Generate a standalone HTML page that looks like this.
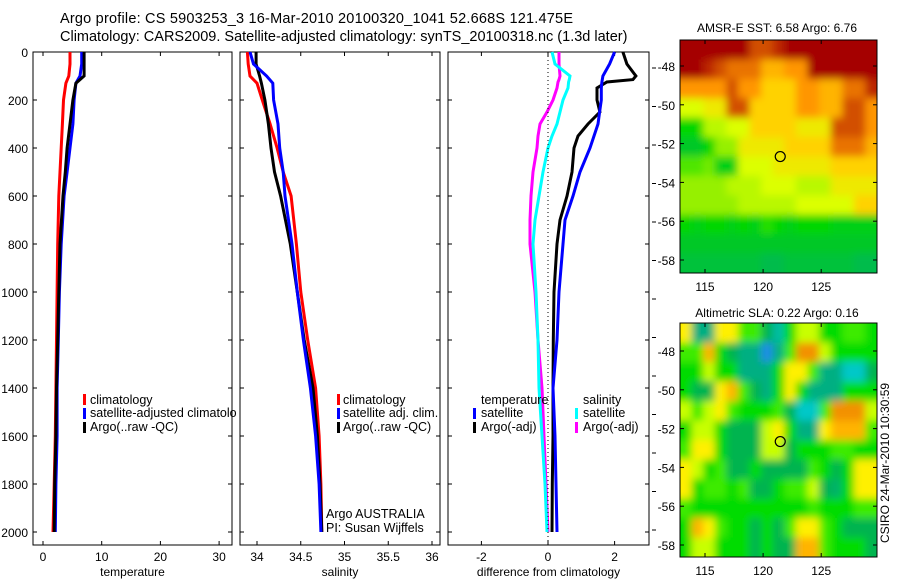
<!DOCTYPE html>
<html><head><meta charset="utf-8">
<style>
html,body{margin:0;padding:0;background:#fff;}
svg{display:block;font-family:"Liberation Sans",sans-serif;}
</style></head>
<body>
<svg id="fig" width="900" height="580" viewBox="0 0 900 580" xmlns="http://www.w3.org/2000/svg">
<defs>
<filter id="smooth" x="-5%" y="-5%" width="110%" height="110%"><feGaussianBlur stdDeviation="4"/></filter>
<clipPath id="clipSst"><rect x="680" y="40" width="197" height="233"/></clipPath>
<clipPath id="clipSla"><rect x="680" y="323" width="197" height="234"/></clipPath>
</defs>
<rect x="0" y="0" width="900" height="580" fill="#fff"/>
<text x="60" y="23" font-size="14.5" textLength="513">Argo profile: CS 5903253_3 16-Mar-2010 20100320_1041 52.668S 121.475E</text>
<text x="60" y="41" font-size="14.5">Climatology: CARS2009. Satellite-adjusted climatology: synTS_20100318.nc (1.3d later)</text>
<g id="profiles"></g>
<g id="maps"></g>
<text x="90" y="404" font-size="12.5">climatology</text>
<text x="90" y="417" font-size="12.5">satellite-adjusted climatolo</text>
<text x="90" y="431" font-size="12.5">Argo(..raw -QC)</text>
<rect x="83" y="394" width="3" height="11" fill="#f00"/><rect x="83" y="408" width="3" height="11" fill="#00f"/><rect x="83" y="422" width="3" height="11" fill="#000"/>
<text x="343" y="404" font-size="12.5">climatology</text>
<text x="343" y="417" font-size="12.5">satellite adj. clim.</text>
<text x="343" y="431" font-size="12.5">Argo(..raw -QC)</text>
<rect x="337" y="394" width="3" height="11" fill="#f00"/><rect x="337" y="408" width="3" height="11" fill="#00f"/><rect x="337" y="422" width="3" height="11" fill="#000"/>
<text x="326" y="518" font-size="12.5">Argo AUSTRALIA</text>
<text x="326" y="532" font-size="12.5">PI: Susan Wijffels</text>
<text x="481" y="404" font-size="12.5">temperature</text>
<text x="481" y="417" font-size="12.5">satellite</text>
<text x="481" y="431" font-size="12.5">Argo(-adj)</text>
<rect x="473" y="408" width="3" height="11" fill="#00f"/><rect x="473" y="422" width="3" height="11" fill="#000"/>
<text x="583" y="404" font-size="12.5">salinity</text>
<text x="583" y="417" font-size="12.5">satellite</text>
<text x="583" y="431" font-size="12.5">Argo(-adj)</text>
<rect x="575" y="408" width="3" height="11" fill="#0ff"/><rect x="575" y="422" width="3" height="11" fill="#f0f"/>
<text x="777" y="32" font-size="12" text-anchor="middle">AMSR-E SST: 6.58 Argo: 6.76</text>
<text x="777" y="317" font-size="12" text-anchor="middle">Altimetric SLA: 0.22 Argo: 0.16</text>
<text x="0" y="0" font-size="12" text-anchor="middle" transform="translate(889,463) rotate(-90)">CSIRO 24-Mar-2010 10:30:59</text>
</svg>
<script>
const depths=[0,50,100,130,200,300,400,500,600,800,1000,1200,1400,1600,1800,2000];
const tempClim=[4.6,4.6,4.4,3.9,3.5,3.3,3.1,2.9,2.7,2.5,2.4,2.3,2.2,2.1,1.9,1.7];
const tempSat=[6.6,6.6,6.3,5.6,5.3,5.1,4.6,4.1,3.6,3.1,2.8,2.6,2.4,2.4,2.2,2.1];
const tempArgo=[7.0,7.0,7.0,5.6,5.1,4.6,4.1,3.8,3.4,2.9,2.7,2.5,2.3,2.2,2.0,1.9];
const salClim=[33.89,33.9,33.92,34.0,34.06,34.15,34.23,34.3,34.39,34.45,34.5,34.58,34.67,34.71,34.73,34.74];
const salSat=[33.92,33.96,34.11,34.18,34.19,34.24,34.26,34.3,34.32,34.4,34.46,34.53,34.61,34.67,34.71,34.73];
const salArgo=[33.99,33.99,34.03,34.05,34.09,34.13,34.16,34.2,34.27,34.38,34.46,34.54,34.64,34.69,34.72,34.74];
const diffDepths=[0,50,100,115,125,150,200,250,300,350,400,500,600,700,800,1000,1200,1400,1600,1800,2000];
const dTempSat=[2.0,1.85,1.65,1.63,1.62,1.6,1.6,1.55,1.5,1.38,1.26,0.96,0.75,0.51,0.45,0.33,0.27,0.15,0.21,0.24,0.27];
const dTempArgo=[2.25,2.37,2.64,2.55,1.77,1.47,1.47,1.56,1.2,0.9,0.78,0.72,0.57,0.36,0.27,0.18,0.16,0.15,0.15,0.13,0.12];
const dSalSat=[0.12,0.21,0.66,0.64,0.62,0.6,0.45,0.36,0.27,0.12,0,-0.15,-0.27,-0.39,-0.45,-0.36,-0.3,-0.27,-0.18,-0.09,-0.03];
const dSalArgo=[0.33,0.33,0.36,0.33,0.3,0.27,0.15,-0.03,-0.24,-0.3,-0.33,-0.45,-0.51,-0.54,-0.54,-0.39,-0.3,-0.18,-0.12,-0.06,0];
const tempTicks=[0,10,20,30];
const salTicks=[34,34.5,35,35.5,36];
const diffTicks=[-2,0,2];
const depthTicks=[0,200,400,600,800,1000,1200,1400,1600,1800,2000];
const sstGrid=[
[10,10,10,10,10,10,9,9,9.5,10,10,10,10,10,10,10,10],
[10,10,9.5,9,8.5,8.5,8.5,7.5,7.5,8,8,10,10,10,10,10,10],
[8,8,8,8,9,8,8,7,7,7,8,8,7.5,7.5,8.5,8.5,9.5],
[6,6,6.5,6.5,9,9,7,7,7,7,8,8,7.5,7.5,9,9,8],
[3,3,5.5,5.5,6,6,7,7,7,7,6.5,6.5,6.5,9,9,9,8],
[2,2,3,5,5,6.5,6.5,6.5,6.5,7,7,7,7,8.5,8.5,8.5,7.5],
[4,4,4.5,2.5,2.5,6,6,6,6.5,6.5,6.5,6.5,6.5,7,7,7,7],
[5,5,5,5,5.5,5.5,5.5,6,6,6,5.5,5.5,5.5,6.5,6.5,6.5,6.5],
[5,5,5,5,5,5.5,5.5,5.5,5.5,5.5,6,6,6,6,6,7,7],
[3,2.5,3,3,2.5,3,2.5,3.5,3,2.5,3,3,3,2.5,2.5,2.5,2.5],
[2,2,2,2,2,2,2,2,2,2,2,2,2,2,2,2,2],
[1.5,1.5,1.5,1.5,1.5,1.5,1.5,1,1,1.5,1.5,1.5,1.5,1.5,1.5,1,1]];
const slaGrid=[
[8,3,3,8,8,6,6,4,2.5,5,7,7,5,5,6,6,5],
[6,6,9,5,4,3,3,1,3,6,9.5,9.5,7,5,5,5,5],
[5,5,7,5,5,3,3,3,5,8,8,6,3,3,2,2,4],
[5,4,4,8,9,6,4,3,5,8,5,3,3,3,5,5,5],
[7,6,7,8,6,5,5,5,6,4,2,2,6,9.5,9.5,9.5,7],
[5,7,7,5,4,4,4,7,8,5,3,3,8,9,9,9,6],
[6,8,8,5,4,4,4,7,7,4,5,5,5,6,6,5,5],
[8,7,5,6,4,4,5,4,4,4,4,6,5,4,5,8,8],
[8,5,6,6,5,6,4,4,5,6,6,7,4,3.5,5,8,8],
[6,5,5,5,5,5,5,5,5,5,5,6,5,5,5,6,6],
[5,9,8,6,5,5,4,5,4,6,8,8,6,5,4,4,4],
[5,7,7,5,5,5,4,5,4,4,9,9,6,5,5,5,4]];
const sstLonTicks=[115,120,125];
const latTicks=[-48,-50,-52,-54,-56,-58];
const floatLon=121.475, floatLat=-52.668;

const NS='http://www.w3.org/2000/svg';
function mk(tag,attrs,parent){const e=document.createElementNS(NS,tag);for(const k in attrs)e.setAttribute(k,attrs[k]);parent.appendChild(e);return e;}
const prof=document.getElementById('profiles');
const Y0=52,Y1=532,BOT=545;
function yD(d){return Y0+(d/2000)*(Y1-Y0);}
function drawPanel(name,left,right,fx,ticks,xlabel,showY,series){
  const g=mk('g',{},prof);
  
  
  mk('rect',{x:left,y:Y0,width:right-left,height:BOT-Y0,fill:'none',stroke:'#000','stroke-width':1},g);
  for(const t of ticks){const x=fx(t);
    mk('line',{x1:x,y1:BOT,x2:x,y2:BOT-4,stroke:'#000'},g);
    mk('line',{x1:x,y1:Y0,x2:x,y2:Y0+4,stroke:'#000'},g);
    const tx=mk('text',{x:x,y:BOT+16,'font-size':12,'text-anchor':'middle'},g);tx.textContent=String(t);
    
    
  }
  for(const d of depthTicks){const y=yD(d);
    mk('line',{x1:left,y1:y,x2:left+4,y2:y,stroke:'#000'},g);
    mk('line',{x1:right,y1:y,x2:right-4,y2:y,stroke:'#000'},g);
    if(showY){const tx=mk('text',{x:left-5,y:y+5,'font-size':12,'text-anchor':'end'},g);tx.textContent=String(d);
      
      }
  }
  const xl=mk('text',{x:(left+right)/2,y:BOT+31,'font-size':12,'text-anchor':'middle'},g);xl.textContent=xlabel;
  
  
  for(const s of series){
    const pts=s.vals.map((v,i)=>fx(v).toFixed(1)+','+yD(s.deps[i]).toFixed(1));
    const pl=mk('polyline',{points:pts.join(' '),fill:'none',stroke:s.color,'stroke-width':3,'stroke-linejoin':'miter'},g);
    
    
  }
  return g;
}
const fT=v=>43+v*5.87, fS=v=>257+(v-34)*87.5, fD=v=>548+v*33.3;
drawPanel('temperature-panel',33,232,fT,tempTicks,'temperature',true,[
 {name:'temp-climatology-line',vals:tempClim,deps:depths,color:'#f00'},
 {name:'temp-satellite-line',vals:tempSat,deps:depths,color:'#00f'},
 {name:'temp-argo-line',vals:tempArgo,deps:depths,color:'#000'}]);
drawPanel('salinity-panel',240,440,fS,salTicks,'salinity',false,[
 {name:'sal-climatology-line',vals:salClim,deps:depths,color:'#f00'},
 {name:'sal-argo-line',vals:salArgo,deps:depths,color:'#000'},
 {name:'sal-satellite-line',vals:salSat,deps:depths,color:'#00f'}]);
const gd=drawPanel('difference-panel',448,649,fD,diffTicks,'difference from climatology',false,[
 {name:'diff-sal-argo-line',vals:dSalArgo,deps:diffDepths,color:'#f0f'},
 {name:'diff-sal-sat-line',vals:dSalSat,deps:diffDepths,color:'#0ff'},
 {name:'diff-temp-argo-line',vals:dTempArgo,deps:diffDepths,color:'#000'},
 {name:'diff-temp-sat-line',vals:dTempSat,deps:diffDepths,color:'#00f'}]);
const zl=mk('line',{x1:fD(0),y1:Y0,x2:fD(0),y2:BOT,stroke:'#000','stroke-dasharray':'1,3'},gd);


for(let y=68;y<540;y+=38.5){mk('line',{x1:652,y1:y,x2:656,y2:y,stroke:'#000'},prof);}

const maps=document.getElementById('maps');
const LON0=112.85,LON1=129.8;
function sstColor(v){const st=[[0,[0,176,112]],[2,[0,200,40]],[3,[0,215,0]],[4,[80,230,0]],[5,[150,240,0]],[6,[220,255,0]],[7,[255,210,0]],[8,[255,150,0]],[9,[210,80,0]],[10,[165,0,0]]];return interpC(st,v);}
function slaColor(v){const st=[[1,[30,140,230]],[2,[0,200,200]],[3,[0,175,130]],[4,[0,180,80]],[5,[0,220,0]],[6,[60,235,0]],[7,[200,255,0]],[8,[255,240,0]],[9,[255,180,0]],[10,[230,110,0]]];return interpC(st,v);}
function interpC(st,v){if(v<=st[0][0])return 'rgb('+st[0][1]+')';for(let i=1;i<st.length;i++){if(v<=st[i][0]){const f=(v-st[i-1][0])/(st[i][0]-st[i-1][0]);const a=st[i-1][1],b=st[i][1];return 'rgb('+a.map((c,k)=>Math.round(c+(b[k]-c)*f)).join(',')+')';}}return 'rgb('+st[st.length-1][1]+')';}
function drawMap(name,top,bot,latRef,grid,cfn,clip){
  const L=680,R=877;
  const fx=lon=>L+(lon-LON0)*(R-L)/(LON1-LON0);
  const fy=lat=>latRef+(-48-lat)*19.4;
  const g=mk('g',{},maps);
  
  
  const cg=mk('g',{'clip-path':'url(#'+clip+')'},g);
  const bg=mk('g',{filter:'url(#smooth)'},cg);
  const nr=grid.length,nc=grid[0].length;
  const cw=(R-L)/nc, ch=(bot-top)/nr;
  grid.forEach((row,i)=>row.forEach((v,j)=>{
    let x=L+j*cw,y=top+i*ch,w=cw+0.6,h=ch+0.6;
    if(j===0){x-=10;w+=10;} if(j===nc-1){w+=10;}
    if(i===0){y-=10;h+=10;} if(i===nr-1){h+=10;}
    const c=mk('rect',{x:x.toFixed(2),y:y.toFixed(2),width:w.toFixed(2),height:h.toFixed(2),fill:cfn(v)},bg);
    
    
  }));
  mk('rect',{x:L,y:top,width:R-L,height:bot-top,fill:'none',stroke:'#000'},g);
  for(const t of sstLonTicks){const x=fx(t);
    mk('line',{x1:x,y1:top,x2:x,y2:top+4,stroke:'#000'},g);
    mk('line',{x1:x,y1:bot,x2:x,y2:bot-4,stroke:'#000'},g);
    const tx=mk('text',{x:x,y:bot+18,'font-size':12,'text-anchor':'middle'},g);tx.textContent=String(t);
    
    }
  for(const t of latTicks){const y=fy(t);
    mk('line',{x1:L,y1:y,x2:L+4,y2:y,stroke:'#000'},g);
    mk('line',{x1:R,y1:y,x2:R-4,y2:y,stroke:'#000'},g);
    const tx=mk('text',{x:L-5,y:y+5,'font-size':12,'text-anchor':'end'},g);tx.textContent=String(t);
    
    }
  const c=mk('circle',{cx:fx(floatLon),cy:fy(floatLat),r:5,fill:'none',stroke:'#000','stroke-width':1.2},g);
  
  
}
drawMap('sst-map',40,273,66,sstGrid,sstColor,'clipSst');
drawMap('sla-map',323,557,351,slaGrid,slaColor,'clipSla');
</script>
</body></html>
